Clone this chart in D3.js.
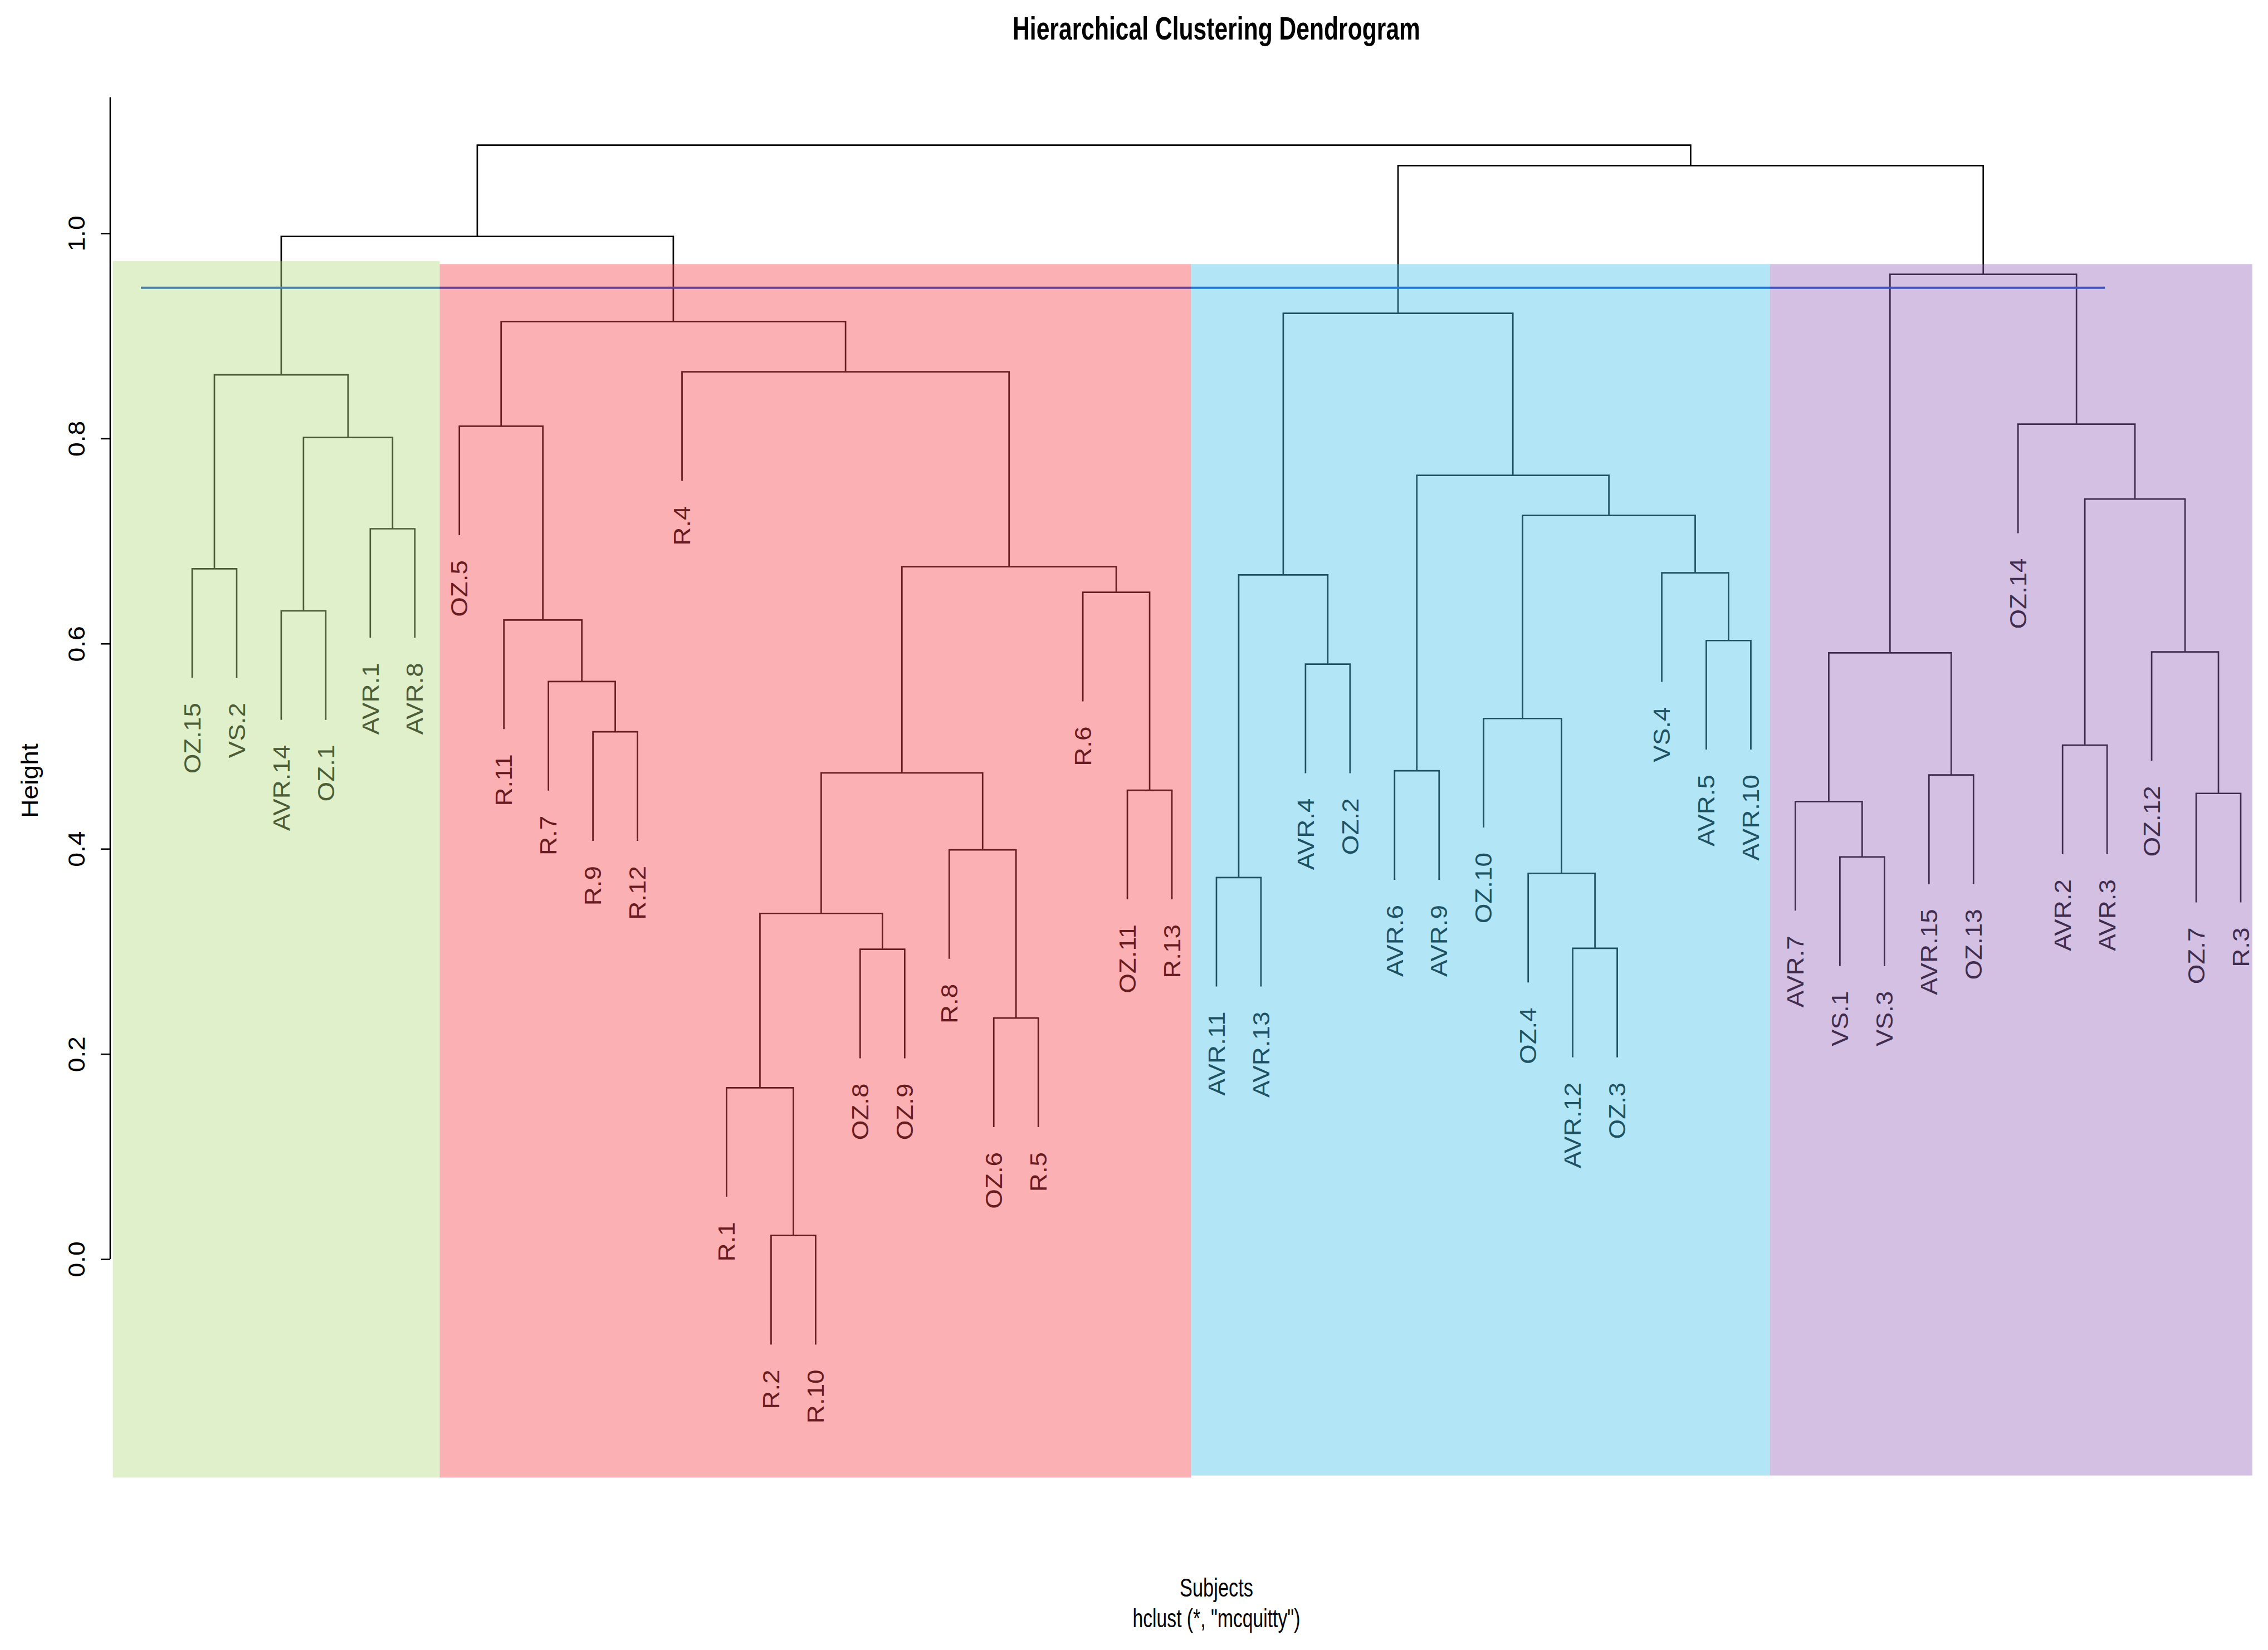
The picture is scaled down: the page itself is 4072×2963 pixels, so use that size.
<!DOCTYPE html>
<html><head><meta charset="utf-8">
<script src="https://cdn.jsdelivr.net/npm/d3@7"></script>
<style>body{margin:0;background:#fff} svg{display:block}</style>
</head><body>
<script>
// ---- data ----
const leafLabels = ["OZ.15","VS.2","AVR.14","OZ.1","AVR.1","AVR.8","OZ.5","R.11","R.7","R.9","R.12","R.4","R.1","R.2","R.10","OZ.8","OZ.9","R.8","OZ.6","R.5","R.6","OZ.11","R.13","AVR.11","AVR.13","AVR.4","OZ.2","AVR.6","AVR.9","OZ.10","OZ.4","AVR.12","OZ.3","VS.4","AVR.5","AVR.10","AVR.7","VS.1","VS.3","AVR.15","OZ.13","OZ.14","AVR.2","AVR.3","OZ.12","OZ.7","R.3"];
// merge table: [left, right, height]; strings = leaves, numbers = earlier merge (1-based)
const merges = [
  ["R.2","R.10",0.023],
  ["R.1",1,0.167],
  ["OZ.6","R.5",0.235],
  ["OZ.8","OZ.9",0.302],
  ["AVR.12","OZ.3",0.303],
  [2,4,0.337],
  ["AVR.11","AVR.13",0.372],
  ["OZ.4",5,0.376],
  ["VS.1","VS.3",0.392],
  ["R.8",3,0.399],
  ["AVR.7",9,0.446],
  ["OZ.7","R.3",0.454],
  ["OZ.11","R.13",0.457],
  ["AVR.15","OZ.13",0.472],
  [6,10,0.474],
  ["AVR.6","AVR.9",0.476],
  ["AVR.2","AVR.3",0.501],
  ["R.9","R.12",0.514],
  ["OZ.10",8,0.527],
  ["R.7",18,0.563],
  ["AVR.4","OZ.2",0.580],
  [11,14,0.591],
  ["OZ.12",12,0.592],
  ["AVR.5","AVR.10",0.603],
  ["R.11",20,0.623],
  ["AVR.14","OZ.1",0.632],
  ["R.6",13,0.650],
  [7,21,0.667],
  ["VS.4",24,0.669],
  ["OZ.15","VS.2",0.673],
  [15,27,0.675],
  ["AVR.1","AVR.8",0.712],
  [19,29,0.725],
  [17,23,0.741],
  [16,33,0.764],
  [26,32,0.801],
  ["OZ.5",25,0.812],
  ["OZ.14",34,0.814],
  [30,36,0.862],
  ["R.4",31,0.865],
  [37,40,0.914],
  [28,35,0.922],
  [22,38,0.960],
  [39,41,0.997],
  [42,43,1.066],
  [44,45,1.086]
];
const yTicks = [0, 0.2, 0.4, 0.6, 0.8, 1.0];
const hangFraction = 0.1;
const cutHeight = 0.947;
const cutFrom = -0.15, cutTo = 43.95;           // leaf-index units
const clusterFrom   = [-0.78, 6.56, 23.43, 36.43];
const clusterTo     = [6.56, 23.43, 36.43, 47.26];
const clusterTop    = [0.973, 0.970, 0.970, 0.970];
const clusterBottom = [-0.213, -0.213, -0.211, -0.211];
const clusterColors = ["#b3db83", "#f5434a", "#47c3ec", "#9869ba"];
const titleText = "Hierarchical Clustering Dendrogram";
const xLabel = "Subjects";
const subLabel = "hclust (*, \"mcquitty\")";
const yLabel = "Height";

// ---- layout ----
const W = 4072, H = 2963;
const FONT = "'Liberation Sans', Arial, Helvetica, sans-serif";
const n = leafLabels.length;
const x = d3.scaleLinear().domain([1, n]).range([345, 4023]);
const y = d3.scaleLinear().domain([0, 1]).range([2261, 419]);

const heights = merges.map(m => m[2]);
const hMax = d3.max(heights), hMin = d3.min(heights);
const hang = hangFraction * (hMax - hMin);
const xPad = 0.04 * (n - 1);
const axisX = x(1 - xPad);
const plotRight = x(n + xPad);
const yTop = hMax + 0.04 * (hMax - (hMin - hang));

const svg = d3.select("body").append("svg").attr("width", W).attr("height", H)
  .attr("font-family", FONT);
svg.append("rect").attr("width", W).attr("height", H).attr("fill", "#fff");

// compute node positions
const mergeX = [];
const leafEnd = {};
function childInfo(ref, h) {
  if (typeof ref === "string") {
    const i = leafLabels.indexOf(ref) + 1;
    leafEnd[ref] = h - hang;
    return { cx: x(i), ch: h - hang };
  }
  return { cx: mergeX[ref - 1], ch: merges[ref - 1][2] };
}
const segs = merges.map((m, k) => {
  const L = childInfo(m[0], m[2]);
  const R = childInfo(m[1], m[2]);
  mergeX[k] = (L.cx + R.cx) / 2;
  return { L, R, h: m[2] };
});

const dend = svg.append("g");
dend.selectAll("path.link").data(segs).join("path")
  .attr("fill", "none").attr("stroke", "#000").attr("stroke-width", 2.7)
  .attr("d", s => `M${s.L.cx},${y(s.L.ch)}V${y(s.h)}H${s.R.cx}V${y(s.R.ch)}`);

// cut line
dend.append("line")
  .attr("x1", x(cutFrom)).attr("x2", x(cutTo))
  .attr("y1", y(cutHeight)).attr("y2", y(cutHeight))
  .attr("stroke", "#0046c8").attr("stroke-width", 4);

// leaf labels
dend.selectAll("text.leaf").data(leafLabels).join("text")
  .attr("class", "leaf")
  .attr("font-size", 42).attr("fill", "#000")
  .attr("text-anchor", "end").attr("dy", "0.35em")
  .attr("transform", (d, i) => `translate(${x(i + 1)},${y(leafEnd[d]) + 45}) rotate(-90) scale(1.09,1)`)
  .text(d => d);

// cluster overlays
svg.append("g").selectAll("rect").data(clusterColors).join("rect")
  .attr("x", (d, i) => x(clusterFrom[i]))
  .attr("width", (d, i) => x(clusterTo[i]) - x(clusterFrom[i]))
  .attr("y", (d, i) => y(clusterTop[i]))
  .attr("height", (d, i) => y(clusterBottom[i]) - y(clusterTop[i]))
  .attr("fill", d => d).attr("fill-opacity", 0.42);

// y axis
const axisG = svg.append("g").attr("transform", `translate(${axisX},0)`)
  .call(d3.axisLeft(y).tickValues(yTicks).tickFormat(d3.format(".1f")).tickSize(17).tickSizeOuter(0));
axisG.attr("font-family", FONT).attr("font-size", 42);
axisG.select(".domain").remove();
axisG.append("line").attr("x1", 0).attr("x2", 0).attr("y1", y(0)).attr("y2", y(yTop))
  .attr("stroke", "#000").attr("stroke-width", 2.5);
axisG.selectAll(".tick line").attr("stroke", "#000").attr("stroke-width", 2.5);
axisG.selectAll(".tick text")
  .attr("x", null).attr("fill", "#000")
  .attr("text-anchor", "middle").attr("dy", "0.35em")
  .attr("transform", "translate(-61,0) rotate(-90) scale(1.1,1)");

// axis title
svg.append("text").attr("font-size", 42).attr("fill", "#000")
  .attr("text-anchor", "middle").attr("dy", "0.35em")
  .attr("transform", `translate(53,${(y(0) + y(1)) / 2 + 62}) rotate(-90) scale(1.1,1)`)
  .text(yLabel);

// titles
const cx = (axisX + plotRight) / 2;
svg.append("text").attr("x", cx).attr("y", 71).attr("text-anchor", "middle")
  .attr("font-size", 58).attr("font-weight", "bold").attr("fill", "#000")
  .attr("textLength", 732).attr("lengthAdjust", "spacingAndGlyphs")
  .text(titleText);
svg.append("text").attr("x", cx).attr("y", 2867).attr("text-anchor", "middle")
  .attr("font-size", 46).attr("fill", "#000")
  .attr("textLength", 132).attr("lengthAdjust", "spacingAndGlyphs")
  .text(xLabel);
svg.append("text").attr("x", cx).attr("y", 2922).attr("text-anchor", "middle")
  .attr("font-size", 46).attr("fill", "#000")
  .attr("textLength", 301).attr("lengthAdjust", "spacingAndGlyphs")
  .text(subLabel);
</script>
</body></html>
